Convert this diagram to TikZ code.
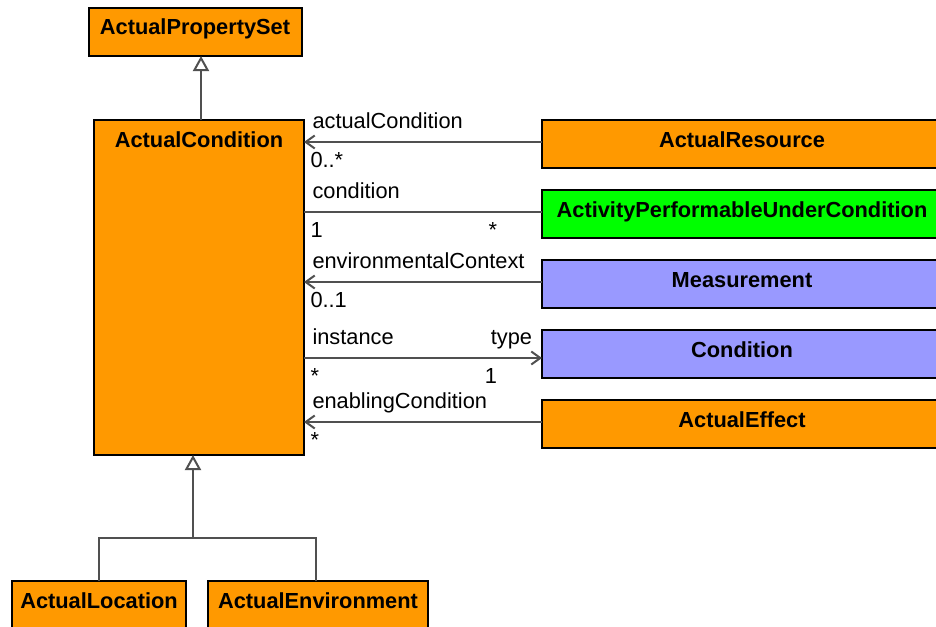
\documentclass[tikz,border=0pt]{standalone}
\usepackage{fontspec}
\setmainfont{Liberation Sans}
\usetikzlibrary{positioning,calc,arrows.meta}
\definecolor{classorange}{RGB}{255,153,0}
\definecolor{classgreen}{RGB}{0,255,0}
\definecolor{classblue}{RGB}{153,153,255}
\definecolor{linegray}{RGB}{80,80,80}
\newcommand{\umlfont}{\fontsize{21.8pt}{26pt}\selectfont}

\begin{document}
\begin{tikzpicture}[
    x=1pt, y=-1pt,
    node distance=22pt and 22pt,
    classbox/.style={rectangle, draw=black, fill=#1, line width=2pt,
                     font=\umlfont\bfseries, inner xsep=0pt, inner ysep=10pt,
                     text height=17pt, text depth=11pt, minimum height=48pt,
                     outer sep=0pt},
    gen/.style={-{Triangle[open, length=15pt, width=16pt]}, line width=2pt, draw=linegray},
    assoc/.style={>={Straight Barb[length=9pt, width=13pt]}, line width=2pt, draw=linegray},
    role/.style={font=\umlfont, inner sep=0pt, anchor=base west, xshift=7.5pt, yshift=14pt},
    mult/.style={font=\umlfont, inner sep=0pt, anchor=base west, xshift=5.5pt, yshift=-25pt},
    roleend/.style={font=\umlfont, inner sep=0pt, anchor=base east, xshift=-9pt, yshift=14pt},
    multend/.style={font=\umlfont, inner sep=0pt, anchor=base east, xshift=-44pt, yshift=-25pt}
]

\useasboundingbox (0,0) rectangle (936,626);
\clip (0,0) rectangle (936,626);

% left column
\node[classbox=classorange, minimum width=213pt] (ActualPropertySet) at (195,32) {ActualPropertySet};
\node[classbox=classorange, minimum width=210pt, text depth=298pt, anchor=north] (ActualCondition) at (199,120) {ActualCondition};

% right column
\node[classbox=classorange, minimum width=400pt, anchor=north west] (ActualResource) at (542,120) {ActualResource};
\node[classbox=classgreen, minimum width=400pt, below=of ActualResource] (ActivityPerformableUnderCondition) {ActivityPerformableUnderCondition};
\node[classbox=classblue, minimum width=400pt, below=of ActivityPerformableUnderCondition] (Measurement) {Measurement};
\node[classbox=classblue, minimum width=400pt, below=of Measurement] (Condition) {Condition};
\node[classbox=classorange, minimum width=400pt, below=of Condition] (ActualEffect) {ActualEffect};

% subclasses
\node[classbox=classorange, minimum width=174pt, anchor=north west] (ActualLocation) at (12,581) {ActualLocation};
\node[classbox=classorange, minimum width=220pt, right=22pt of ActualLocation] (ActualEnvironment) {ActualEnvironment};

% generalizations
\draw[gen] ([xshift=2pt]ActualCondition.north) -- ([xshift=2pt]ActualCondition.north |- ActualPropertySet.south);

\coordinate (split) at (193,538);
\draw[gen] (split) -- (split |- ActualCondition.south);
\draw[assoc] (ActualLocation.north) |- (split) -| ([xshift=-2pt]ActualEnvironment.north);

% associations
\draw[assoc, <-] ([yshift=2pt]ActualCondition.east |- ActualResource.west) -- ([yshift=2pt]ActualResource.west)
    node[role, pos=0] {actualCondition} node[mult, pos=0] {0..*};
\draw[assoc] ([yshift=2pt]ActualCondition.east |- ActivityPerformableUnderCondition.west) -- ([yshift=2pt]ActivityPerformableUnderCondition.west)
    node[role, pos=0] {condition} node[mult, pos=0] {1} node[multend, pos=1] {*};
\draw[assoc, <-] ([yshift=2pt]ActualCondition.east |- Measurement.west) -- ([yshift=2pt]Measurement.west)
    node[role, pos=0] {environmentalContext} node[mult, pos=0] {0..1};
\draw[assoc, ->] ([yshift=-4pt]ActualCondition.east |- Condition.west) -- ([yshift=-4pt]Condition.west)
    node[role, pos=0] {instance} node[mult, pos=0] {*}
    node[roleend, pos=1] {type} node[multend, pos=1] {1};
\draw[assoc, <-] ([yshift=2pt]ActualCondition.east |- ActualEffect.west) -- ([yshift=2pt]ActualEffect.west)
    node[role, pos=0] {enablingCondition} node[mult, pos=0] {*};

\end{tikzpicture}
\end{document}
